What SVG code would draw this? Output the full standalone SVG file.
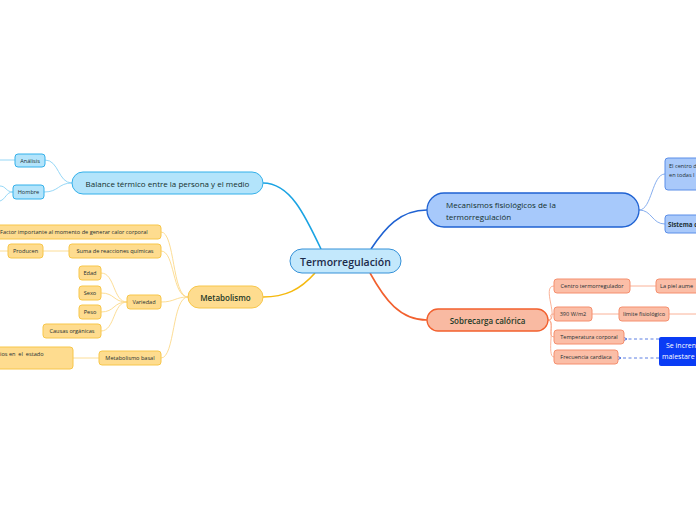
<svg xmlns="http://www.w3.org/2000/svg" width="696" height="520" viewBox="0 0 696 520">
<style>
text{font-family:"Open Sans","Noto Sans","DejaVu Sans",sans-serif;fill:#1c2f33;dominant-baseline:central}
.c{text-anchor:middle}
.s{font-size:5.6px}
.m{font-size:8px;font-weight:500;fill:#14302c}
.bl{fill:#b3e4fb;stroke:#33b0ea;stroke-width:1}
.yl{fill:#fedc8f;stroke:#f7c64a;stroke-width:1}
.pb{fill:#a9c9fa;stroke:#5b8ee8;stroke-width:1}
.sl{fill:#fbbea7;stroke:#f58f6e;stroke-width:1}
.con path{fill:none}
</style>
<defs>
<marker id="ah" markerWidth="6" markerHeight="6" refX="1" refY="3" orient="auto" markerUnits="userSpaceOnUse">
<path d="M6,0 L0,3 L6,6" fill="none" stroke="#4a6fe0" stroke-width="1"/>
</marker>
</defs>
<rect width="696" height="520" fill="#ffffff"/>
<g class="con">
<path d="M321 249 C305 215 290 183 263 183" stroke="#1aa3e3" stroke-width="1.6"/>
<path d="M371 249 C385 228 400 210 427 210" stroke="#1f62d2" stroke-width="1.6"/>
<path d="M315 273 C300 290 285 297 263 297" stroke="#f5b90f" stroke-width="1.6"/>
<path d="M370 273 C385 300 400 320 427 320" stroke="#f2602e" stroke-width="1.6"/>
<g stroke="#8ad3f5" stroke-width="0.9">
<path d="M72 183 C58 183 59 160 45 160"/>
<path d="M72 183 C58 183 59 192 44 192"/>
<path d="M15 160 L0 160"/>
<path d="M13 192 C6 192 6 186 0 186"/>
<path d="M13 192 C6 192 6 199 0 201"/>
</g>
<g stroke="#fcd98a" stroke-width="0.9">
<path d="M188 297 C172 297 175 232 161 232"/>
<path d="M188 297 C172 297 175 251 161 251"/>
<path d="M188 297 C175 297 175 302 161 302"/>
<path d="M188 297 C172 297 175 358 161 358"/>
<path d="M69 251 L43 251"/>
<path d="M8 251 L0 251"/>
<path d="M127 302 C113 302 115 273 101 273"/>
<path d="M127 302 C113 302 115 293 101 293"/>
<path d="M127 302 C113 302 115 312 101 312"/>
<path d="M127 302 C113 302 115 331 101 331"/>
<path d="M99 358 L73 358"/>
</g>
<g stroke="#79a5ec" stroke-width="0.9">
<path d="M639 210 C652 210 652 174 665 174"/>
<path d="M639 210 C652 210 652 224 665 224"/>
</g>
<g stroke="#f9a98c" stroke-width="0.9">
<path d="M548 320 C560 320 541 286 554 286"/>
<path d="M548 320 C556 320 546 314 554 314"/>
<path d="M548 320 C556 320 546 337 554 337"/>
<path d="M548 320 C556 320 546 357 554 357"/>
<path d="M630 286 L656 286"/>
<path d="M592 314 L619 314"/>
<path d="M669 314 L696 314"/>
</g>
<g stroke="#4a6fe0" stroke-width="0.9" stroke-dasharray="3,2.5">
<path d="M659 339 L626 339" marker-end="url(#ah)"/>
<path d="M659 358 L620 358" marker-end="url(#ah)"/>
</g>
</g>
<g id="central">
<rect x="290" y="249" width="111" height="24" rx="12" fill="#c3e8fc" stroke="#3591d8" stroke-width="1"/>
<text class="c" x="345.5" y="261.5" style="font-size:10.5px;font-weight:600;fill:#1c2b4a">Termorregulación</text>
</g>
<g id="balance">
<rect x="72" y="172" width="191" height="22" rx="11" class="bl" stroke-width="1.3"/>
<text class="c m" x="167.5" y="183.5">Balance térmico entre la persona y el medio</text>
</g>
<g id="analisis"><rect x="15" y="154" width="30" height="13" rx="3" class="bl"/><text class="c s" x="30" y="160.5">Análisis</text></g>
<g id="hombre"><rect x="13" y="185" width="31" height="14" rx="3" class="bl"/><text class="c s" x="28.5" y="192">Hombre</text></g>
<g id="metabolismo">
<rect x="188" y="286" width="75" height="22" rx="11" class="yl" stroke-width="1.3"/>
<text class="c m" x="225.5" y="297.5" style="font-weight:600;fill:#1e3a28">Metabolismo</text>
</g>
<g id="factor"><rect x="-6" y="225" width="167" height="14" rx="3" class="yl"/><text class="s" x="0" y="232">Factor importante al momento de generar calor corporal</text></g>
<g id="suma"><rect x="69" y="244" width="92" height="14" rx="3" class="yl"/><text class="c s" x="115" y="251">Suma de reacciones químicas</text></g>
<g id="producen"><rect x="8" y="244" width="35" height="14" rx="3" class="yl"/><text class="c s" x="25.5" y="251">Producen</text></g>
<g id="variedad"><rect x="127" y="295" width="34" height="14" rx="3" class="yl"/><text class="c s" x="144" y="302">Variedad</text></g>
<g id="edad"><rect x="79" y="266" width="22" height="14" rx="3" class="yl"/><text class="c s" x="90" y="273">Edad</text></g>
<g id="sexo"><rect x="79" y="286" width="22" height="14" rx="3" class="yl"/><text class="c s" x="90" y="293">Sexo</text></g>
<g id="peso"><rect x="79" y="305" width="22" height="14" rx="3" class="yl"/><text class="c s" x="90" y="312">Peso</text></g>
<g id="causas"><rect x="43" y="324" width="58" height="14" rx="3" class="yl"/><text class="c s" x="72" y="331">Causas orgánicas</text></g>
<g id="basal"><rect x="99" y="351" width="62" height="14" rx="3" class="yl"/><text class="c s" x="130" y="358">Metabolismo basal</text></g>
<g id="cambios"><rect x="-8" y="347" width="81" height="22" rx="3" class="yl"/><text class="s" x="0" y="354" xml:space="preserve">ios en  el  estado</text></g>
<g id="mecanismos">
<rect x="427" y="193" width="212" height="34" rx="17" fill="#a7c9fb" stroke="#1f62d2" stroke-width="1.3"/>
<text class="m" x="446" y="204.5">Mecanismos fisiológicos de la</text>
<text class="m" x="446" y="216.5">termorregulación</text>
</g>
<g id="centro"><rect x="665" y="158" width="40" height="32" rx="3" class="pb"/><text class="s" x="669" y="166">El centro d</text><text class="s" x="669" y="175">en todas l</text></g>
<g id="sistema"><rect x="665" y="215" width="40" height="18" rx="3" class="pb"/><text class="s" x="668" y="224" style="font-weight:700;font-size:6.2px">Sistema c</text></g>
<g id="sobrecarga">
<rect x="427" y="309" width="121" height="22" rx="11" fill="#f9baa2" stroke="#f2602e" stroke-width="1.3"/>
<text class="c m" x="487.5" y="320.5" style="font-weight:600;fill:#1e3a28">Sobrecarga calórica</text>
</g>
<g id="centrotermo"><rect x="554" y="279" width="76" height="14" rx="3" class="sl"/><text class="c s" x="592" y="286">Centro termorregulador</text></g>
<g id="piel"><rect x="656" y="279" width="50" height="14" rx="3" class="sl"/><text class="s" x="660" y="286">La piel aume</text></g>
<g id="w390"><rect x="554" y="307" width="38" height="14" rx="3" class="sl"/><text class="c s" x="573" y="314">390 W/m2</text></g>
<g id="limite"><rect x="619" y="307" width="50" height="14" rx="3" class="sl"/><text class="c s" x="644" y="314">límite fisiológico</text></g>
<g id="temperatura"><rect x="554" y="330" width="70" height="14" rx="3" class="sl"/><text class="c s" x="589" y="337">Temperatura corporal</text></g>
<g id="frecuencia"><rect x="554" y="350" width="64" height="14" rx="3" class="sl"/><text class="c s" x="586" y="357">Frecuencia cardíaca</text></g>
<g id="seincre"><rect x="659" y="337" width="45" height="29" rx="2" fill="#0a3cf5"/><text x="666" y="345" style="font-size:7px;fill:#ffffff">Se incren</text><text x="662" y="356" style="font-size:7px;fill:#ffffff">malestare</text></g>
</svg>
